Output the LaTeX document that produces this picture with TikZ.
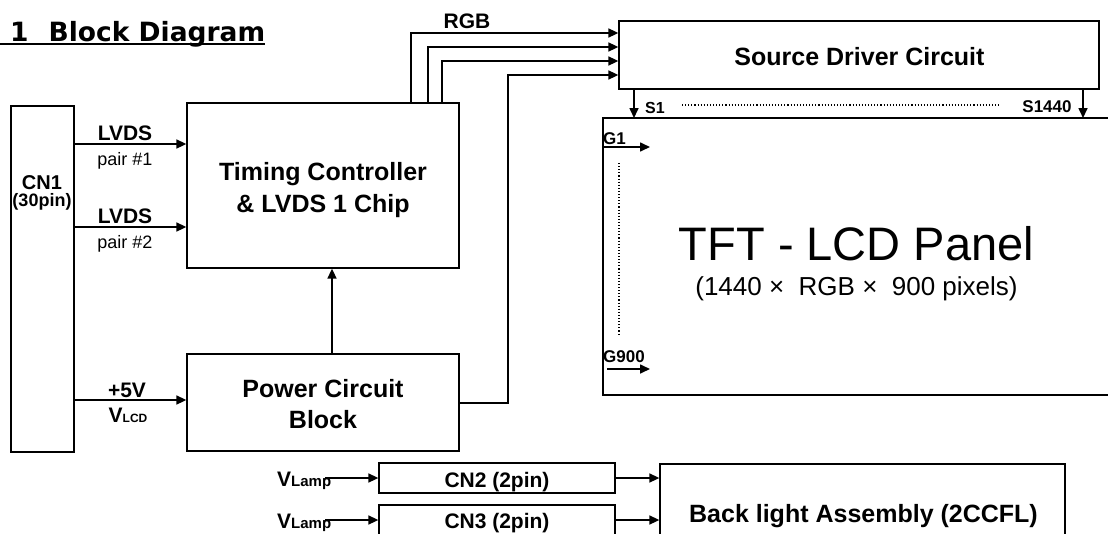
\documentclass[tikz,border=0pt]{standalone}
\usepackage{fontspec}
\setmainfont{Liberation Sans}
\newfontfamily\titlefont{DejaVu Sans}
\usetikzlibrary{arrows.meta}
\newcommand{\fsz}[2]{\fontsize{#1}{#2}\selectfont}

\begin{document}
\begin{tikzpicture}[x=1pt,y=-1pt,
  box/.style={draw,line width=1.3pt,inner sep=0pt},
  arr/.style={line width=1.6pt,-{Triangle[length=10pt,width=9pt]}},
  dots/.style={dotted,line width=1.1pt},
  big/.style={font=\bfseries\fsz{25}{31},anchor=base,inner sep=0pt},
  lab/.style={font=\bfseries\fsz{21}{21},anchor=base,inner sep=0pt}]
\clip (0,0) rectangle (1108,533);
\node[font=\titlefont\bfseries\fsz{26.5}{26.5},anchor=base west,inner sep=0pt] (title) at (10,41) {1\hspace{20pt}Block Diagram};
\draw[line width=2pt] (0,44) -- (title.east |- 0,44);
\node[box,minimum width=63pt,minimum height=346pt] (cn1) at (42.5,279) {};
\node[lab,font=\bfseries\fsz{20}{20}] (cn1txt) at (42,189) {CN1};
\node[lab,font=\bfseries\fsz{18}{18}] (cn1pin) at (42,206) {(30pin)};
\node[box,minimum width=272pt,minimum height=165pt] (tcon) at (323,185.5) {};
\node[big,font=\bfseries\fsz{25}{32},align=center] (tcontxt) at (323,212) {Timing Controller\\\& LVDS 1 Chip};
\node[box,minimum width=272pt,minimum height=97pt] (power) at (323,402.5) {};
\node[big,align=center] (powertxt) at (323,428) {Power Circuit\\Block};
\node[box,minimum width=480pt,minimum height=68pt] (source) at (859,55) {};
\node[big] (sourcetxt) at (859.5,65) {Source Driver Circuit};
\coordinate (pnw) at (603,118);
\coordinate (psw) at (603,395);
\draw[line width=1.3pt] (1108,118) -- (pnw) -- (psw) -- (1108,395);
\node[font=\fsz{47}{47},anchor=base,inner sep=0pt] (tft) at (856.5,260) {TFT - LCD Panel};
\node[font=\fsz{26}{26},anchor=base,inner sep=0pt] (res) at (856.5,295) {(1440 ×\ \ RGB ×\ \ 900 pixels)};
\node[box,minimum width=236pt,minimum height=30pt] (cn2) at (497,478) {};
\node[lab] (cn2txt) at (497,487) {CN2 (2pin)};
\node[box,minimum width=236pt,minimum height=30pt] (cn3) at (497,520) {};
\node[lab] (cn3txt) at (497,528) {CN3 (2pin)};
\node[box,minimum width=405pt,minimum height=90pt] (bl) at (862.5,509) {};
\node[big] (bltxt) at (863.5,522) {Back light Assembly (2CCFL)};
\node[lab] (lvdsa) at (125,140) {LVDS};
\node[lab,font=\fsz{18}{18}] (paira) at (125,165) {pair \#1};
\node[lab] (lvdsb) at (125,223) {LVDS};
\node[lab,font=\fsz{18}{18}] (pairb) at (125,248) {pair \#2};
\node[lab] (fivev) at (127,397) {+5V};
\node[lab] (vlcd) at (128,422) {V{\fsz{12}{12}LCD}};
\node[lab,anchor=base west] (vlampa) at (277,486) {V{\fsz{15}{15}Lamp}};
\node[lab,anchor=base west] (vlampb) at (277,528) {V{\fsz{15}{15}Lamp}};
\node[lab] (rgb) at (467,28) {RGB};
\node[lab,font=\bfseries\fsz{16}{16}] (sa) at (655,113) {S1};
\node[lab,font=\bfseries\fsz{17}{17}] (sb) at (1047,112) {S1440};
\node[lab,font=\bfseries\fsz{17}{17},anchor=base west] (ga) at (603,144) {G1};
\node[lab,font=\bfseries\fsz{17}{17},anchor=base west] (gb) at (603,362) {G900};
\draw[arr] (cn1.east |- 0,144) -- (tcon.west |- 0,144);
\draw[arr] (cn1.east |- 0,227) -- (tcon.west |- 0,227);
\draw[arr] (cn1.east |- 0,400) -- (power.west |- 0,400);
\draw[arr] (power.north -| 332,0) -- (tcon.south -| 332,0);
\foreach \x/\y in {411/33,428/47,442/61}
  \draw[arr] (tcon.north -| \x,0) |- (source.west |- 0,\y);
\coordinate (bend) at (508,75);
\draw[arr] (power.east |- 0,403) -| (bend) -- (source.west |- bend);
\draw[arr] (source.south -| 634,0) -- (pnw -| 634,0);
\draw[arr] (source.south -| 1083,0) -- (pnw -| 1083,0);
\draw[dots] (682,105) -- (1000,105);
\draw[arr] (pnw |- 0,147) -- ++(47,0);
\draw[arr] (607,369) -- (650,369);
\draw[dots] (619,163) -- (619,336);
\draw[arr] ([xshift=-6pt]vlampa.east |- cn2.west) -- (cn2.west);
\draw[arr] ([xshift=-6pt]vlampb.east |- cn3.west) -- (cn3.west);
\draw[arr] (cn2.east) -- (bl.west |- cn2.east);
\draw[arr] (cn3.east) -- (bl.west |- cn3.east);
\end{tikzpicture}
\end{document}
